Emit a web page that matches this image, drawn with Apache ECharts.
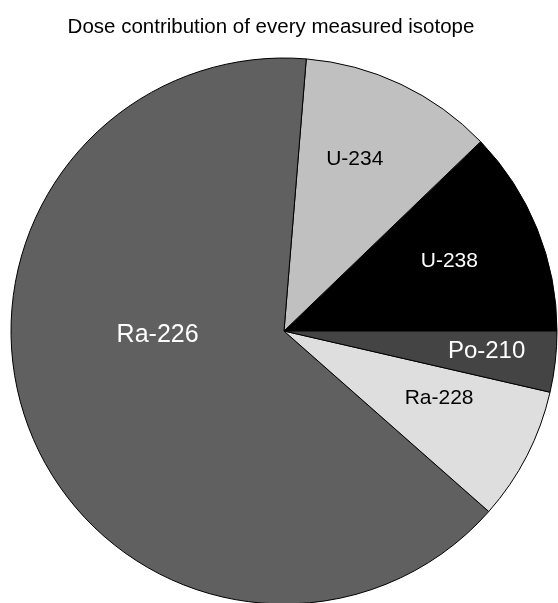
<!DOCTYPE html>
<html>
<head>
<meta charset="utf-8">
<title>Dose contribution of every measured isotope</title>
<script src="https://cdn.jsdelivr.net/npm/echarts@6/dist/echarts.min.js"></script>
<style>
  html, body { margin: 0; padding: 0; background: #fff; }
  #chart { width: 558px; height: 603px; }
</style>
</head>
<body>
<div id="chart"></div>
<script>
// Isotopes, listed counter-clockwise starting from 3 o'clock
var isotopes = ['U-238', 'U-234', 'Ra-226', 'Ra-228', 'Po-210'];
// Share of the total dose (%)
var doseShare = [12.2, 11.5, 64.8, 7.9, 3.6];

// Appearance of each slice and its label
var sliceColors = ['#000000', '#c0c0c0', '#606060', '#dedede', '#444444'];
var labelColors = ['#ffffff', '#000000', '#ffffff', '#000000', '#ffffff'];
var labelSizes = [21, 21, 25, 21, 24];
var labelOffsets = [[36, -18], [11, -46], [3, -48], [31, 3], [64, 5]];

var data = isotopes.map(function (name, i) {
  return {
    name: name,
    value: doseShare[i],
    itemStyle: { color: sliceColors[i] },
    label: {
      color: labelColors[i],
      fontSize: labelSizes[i],
      offset: labelOffsets[i]
    }
  };
});

var chart = echarts.init(document.getElementById('chart'), null, { renderer: 'canvas' });
chart.setOption({
  backgroundColor: '#ffffff',
  animation: false,
  title: {
    text: 'Dose contribution of every measured isotope',
    left: 266,
    top: 12,
    textAlign: 'center',
    textStyle: {
      fontFamily: 'Liberation Sans, Arial, sans-serif',
      fontWeight: 'normal',
      fontSize: 20.5,
      color: '#000000'
    }
  },
  series: [{
    type: 'pie',
    center: [284, 331],
    radius: [0, 273],
    startAngle: 0,
    clockwise: false,
    sort: false,
    avoidLabelOverlap: false,
    itemStyle: { borderColor: '#000000', borderWidth: 1 },
    label: {
      show: true,
      position: 'inside',
      formatter: '{b}',
      fontFamily: 'Liberation Sans, Arial, sans-serif'
    },
    labelLine: { show: false },
    emphasis: { disabled: true },
    data: data
  }]
});
</script>
</body>
</html>
